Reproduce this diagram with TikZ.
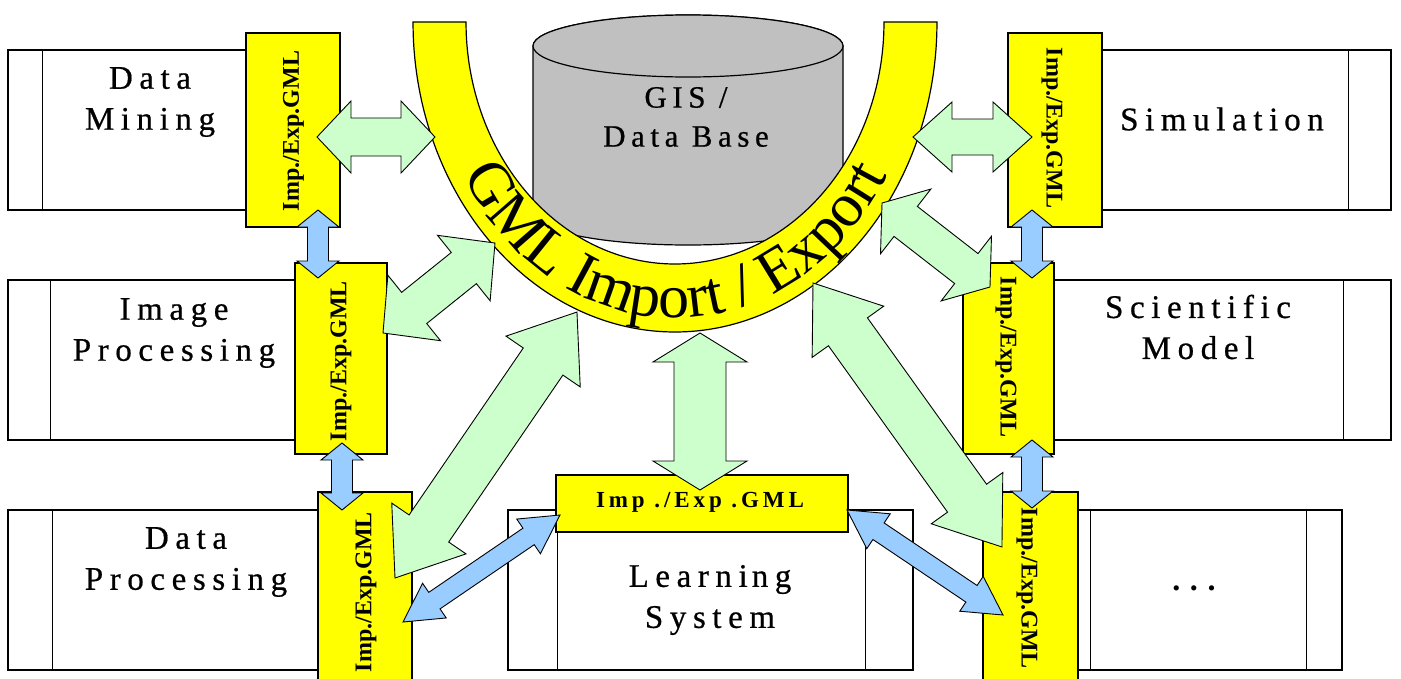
\documentclass[tikz,border=0pt]{standalone}
\usepackage{fontspec}
\setmainfont{Liberation Serif}
\usetikzlibrary{calc,decorations.text}

\definecolor{gmlyellow}{HTML}{FFFF00}
\definecolor{mint}{HTML}{CCFFCC}
\definecolor{sky}{HTML}{99CCFF}
\definecolor{dbgray}{HTML}{C0C0C0}

% Block double arrow between two named points:
% #1 style, #2 from, #3 to, #4 shaft half width, #5 head half width, #6 head length
\newcommand\blockarrow[6]{%
  \path[#1] let \p1=(#2), \p2=(#3),
      \n1={atan2(\y2-\y1,\x2-\x1)}, \n2={veclen(\x2-\x1,\y2-\y1)} in
    [shift={(\p1)}, rotate=\n1]
    (0,0) -- (#6,#5) -- (#6,#4) -- (\n2-#6,#4) -- (\n2-#6,#5) -- (\n2,0)
    -- (\n2-#6,-#5) -- (\n2-#6,-#4) -- (#6,-#4) -- (#6,-#5) -- cycle;}

\begin{document}
\begin{tikzpicture}[x=1pt,y=-1pt,
  sysbox/.style={draw=black, line width=1.3pt, fill=white, inner sep=0pt},
  boxline/.style={draw=black, line width=1.3pt},
  gmlbox/.style={draw=black, line width=1.3pt, fill=gmlyellow, inner sep=0pt},
  greenarr/.style={draw=black, line width=0.9pt, fill=mint, line join=miter},
  bluearr/.style={draw=black, line width=0.9pt, fill=sky, line join=miter},
  lbl/.style={font=\fontsize{33}{41}\selectfont\addfontfeature{LetterSpace=20,FakeBold=0.6},
              align=center, inner sep=0pt, text=black},
  vlabel/.style={font=\fontsize{24}{24}\selectfont\bfseries, inner sep=0pt},
  hlabel/.style={font=\fontsize{23}{23}\selectfont\bfseries\addfontfeature{LetterSpace=17},
                 inner sep=0pt},
]
\useasboundingbox (0,0) rectangle (1401,678);
\fill[white] (0,0) rectangle (1401,678);

% application boxes
\node[sysbox, minimum width=262pt, minimum height=160pt] (dm) at (139,130) {};
\draw[boxline] ([xshift=35pt]dm.north west) -- ([xshift=35pt]dm.south west);
\node[sysbox, minimum width=302pt, minimum height=160pt] (ip) at (159,360) {};
\draw[boxline] ([xshift=43pt]ip.north west) -- ([xshift=43pt]ip.south west);
\node[sysbox, minimum width=322pt, minimum height=160pt] (dp) at (169,590) {};
\draw[boxline] ([xshift=45pt]dp.north west) -- ([xshift=45pt]dp.south west);
\node[sysbox, minimum width=301pt, minimum height=160pt] (sim) at (1240.5,130) {};
\draw[boxline] ([xshift=-43pt]sim.north east) -- ([xshift=-43pt]sim.south east);
\node[sysbox, minimum width=351pt, minimum height=160pt] (sci) at (1215.5,360) {};
\draw[boxline] ([xshift=-48pt]sci.north east) -- ([xshift=-48pt]sci.south east);
\node[sysbox, minimum width=272pt, minimum height=160pt] (etc) at (1206,590) {};
\draw[boxline] ([xshift=21pt]etc.north west) -- ([xshift=21pt]etc.south west);
\draw[boxline] ([xshift=-36pt]etc.north east) -- ([xshift=-36pt]etc.south east);
\node[sysbox, minimum width=405pt, minimum height=160pt] (ls) at (710.5,590) {};
\draw[boxline] ([xshift=50pt]ls.north west) -- ([xshift=50pt]ls.south west);
\draw[boxline] ([xshift=-48pt]ls.north east) -- ([xshift=-48pt]ls.south east);

% GML import/export adapters
\node[gmlbox, minimum width=94pt, minimum height=194pt] (ydm) at (293,130) {};
\node[gmlbox, minimum width=92pt, minimum height=191pt] (yip) at (341,358.5) {};
\node[gmlbox, minimum width=94pt, minimum height=208pt] (ydp) at (365,596) {};
\node[gmlbox, minimum width=94pt, minimum height=194pt] (ysim) at (1055,130) {};
\node[gmlbox, minimum width=91pt, minimum height=191pt] (ysci) at (1008.5,358.5) {};
\node[gmlbox, minimum width=95pt, minimum height=208pt] (yetc) at (1030.5,596) {};
\node[gmlbox, minimum width=292pt, minimum height=57pt] (yls) at (702,503.5) {};

% GIS / data base cylinder
\filldraw[fill=dbgray, draw=black, line width=1.2pt]
  (533,46) -- (533,214) arc[start angle=180, end angle=360, x radius=155pt, y radius=31pt]
  -- (843,46) arc[start angle=0, end angle=180, x radius=155pt, y radius=31pt] -- cycle;
\draw[fill=dbgray, draw=black, line width=1.2pt] (688,46) ellipse [x radius=155pt, y radius=31pt];

% GML import / export band
\path[fill=gmlyellow, draw=black, line width=1.2pt]
  plot[smooth, domain=-90:90, samples=73] ({675+262*sin(\x)},{22+310*cos(\x)})
  -- plot[smooth, domain=90:-90, samples=73] ({675+209*sin(\x)},{22+242*cos(\x)}) -- cycle;
\path[decorate, decoration={text along path, text align=center,
      text={|\fontsize{62}{62}\selectfont|GML Import / Export}}]
  plot[smooth, domain=-88:88, samples=89] ({675+248*sin(\x)},{22+296*cos(\x)});

% arrow end points
\coordinate (g1a) at (317,137);  \coordinate (g1b) at (435,137);
\coordinate (g2a) at (913,137);  \coordinate (g2b) at (1032,137);
\coordinate (g3a) at (383,333);  \coordinate (g3b) at (495,243);
\coordinate (g4a) at (395,578);  \coordinate (g4b) at (577,312);
\coordinate (g5a) at (700,333);  \coordinate (g5b) at (700,490);
\coordinate (g6a) at (813,283);  \coordinate (g6b) at (1002,547);
\coordinate (g7a) at (882,203);  \coordinate (g7b) at (990,287);
\coordinate (b1a) at (318,210);  \coordinate (b1b) at (318,278);
\coordinate (b2a) at (342,443);  \coordinate (b2b) at (342,510);
\coordinate (b3a) at (1032,210); \coordinate (b3b) at (1032,278);
\coordinate (b4a) at (1032,440); \coordinate (b4b) at (1032,508);
\coordinate (b5a) at (403,622);  \coordinate (b5b) at (560,515);
\coordinate (b6a) at (847,510);  \coordinate (b6b) at (1003,615);

% exchange arrows with the band
\blockarrow{greenarr}{g1a}{g1b}{19}{36}{34}
\blockarrow{greenarr}{g2a}{g2b}{18}{35}{39}
\blockarrow{greenarr}{g3a}{g3b}{20}{42}{40}
\blockarrow{greenarr}{g4a}{g4b}{24}{45}{60}
\blockarrow{greenarr}{g5a}{g5b}{26}{47}{29}
\blockarrow{greenarr}{g6a}{g6b}{24}{44}{60}
\blockarrow{greenarr}{g7a}{g7b}{19}{41}{30}

% direct exchange between adapters
\blockarrow{bluearr}{b1a}{b1b}{10.5}{21}{17}
\blockarrow{bluearr}{b2a}{b2b}{10.5}{21}{17}
\blockarrow{bluearr}{b3a}{b3b}{10.5}{21}{17}
\blockarrow{bluearr}{b4a}{b4b}{10.5}{21}{17}
\blockarrow{bluearr}{b5a}{b5b}{10}{21}{38}
\blockarrow{bluearr}{b6a}{b6b}{10}{21}{38}

% adapter labels
\node[vlabel, rotate=90] (ydm-l) at (293.5,131) {Imp./Exp.GML};
\node[vlabel, rotate=90] (yip-l) at (341,361) {Imp./Exp.GML};
\node[vlabel, rotate=90] (ydp-l) at (366,592) {Imp./Exp.GML};
\node[vlabel, rotate=-90] (ysim-l) at (1052,128) {Imp./Exp.GML};
\node[vlabel, rotate=-90] (ysci-l) at (1006,357) {Imp./Exp.GML};
\node[vlabel, rotate=-90] (yetc-l) at (1027,588) {Imp./Exp.GML};
\node[hlabel] (yls-l) at (700,502) {Imp ./Exp .GML};

% system names
\node[lbl] (dm-t) at (150,102) {Data\\Mining};
\node[lbl] (ip-t) at (174,333) {Image\\Processing};
\node[lbl] (dp-t) at (186,562) {Data\\Processing};
\node[lbl] (sim-t) at (1222,119) {Simulati\kern6pt on};
\node[lbl] (sci-t) at (1198,327) {Scientific\\Model};
\node[lbl, font=\fontsize{32}{41}\selectfont\bfseries\addfontfeature{LetterSpace=30}] (etc-t) at (1194,588) {...};
\node[lbl] (ls-t) at (710,600) {Learni\kern4pt ng\\System};
\node[lbl, font=\fontsize{31}{39}\selectfont\addfontfeature{LetterSpace=18,FakeBold=0.6}] (db-t) at (686,117) {GIS /\\Data Base};
\end{tikzpicture}
\end{document}
